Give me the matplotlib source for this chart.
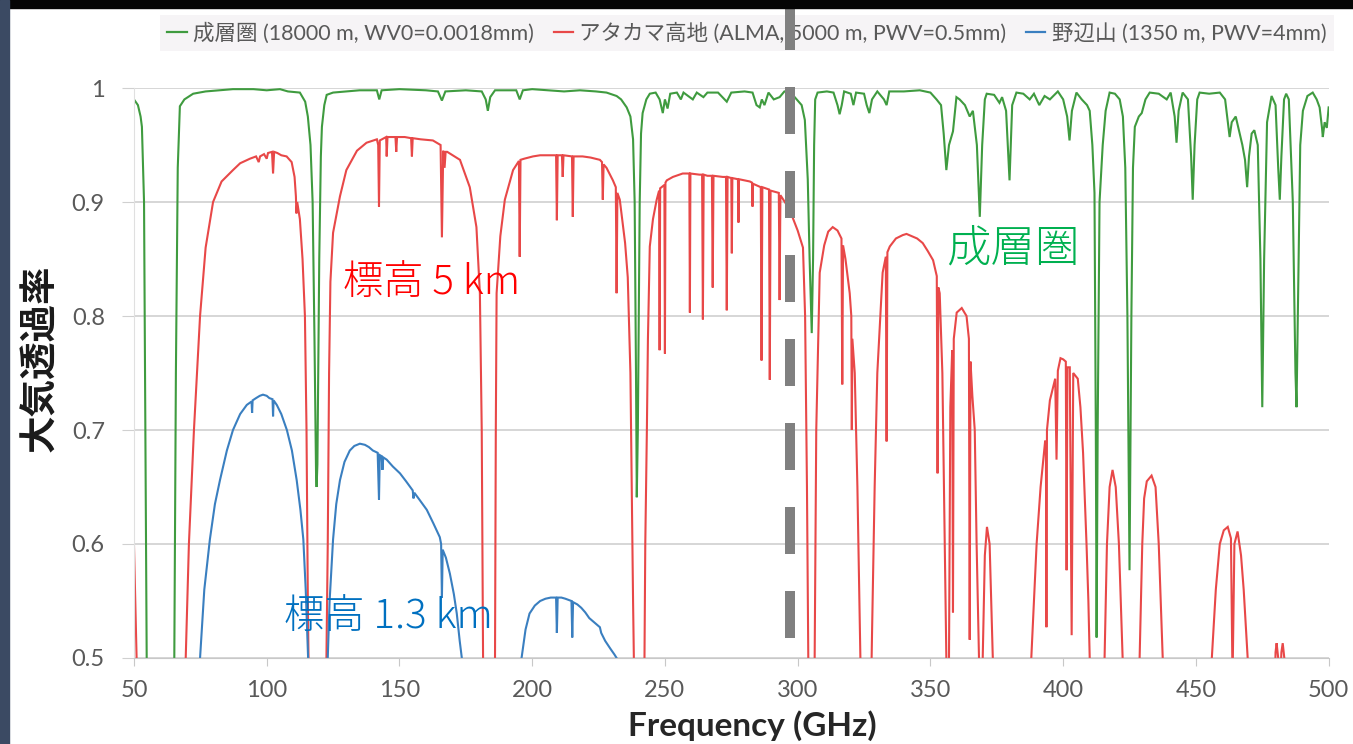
import numpy as np
import matplotlib
matplotlib.use("Agg")
import matplotlib.pyplot as plt
from matplotlib.lines import Line2D

plt.rcParams['font.family'] = ['Lato', 'Noto Sans CJK JP', 'DejaVu Sans']

# transmission, (GHz, transmission); 0.45 = below the plotted range
strato = [
    (50, 0.990), (51.5, 0.985), (52.5, 0.975), (53.0, 0.966), (53.8, 0.90), (54.3, 0.70),
    (54.8, 0.50), (55.3, 0.40), (64.8, 0.40), (65.2, 0.50), (65.8, 0.75), (66.5, 0.93),
    (67.3, 0.984), (69, 0.990), (72.3, 0.995), (77, 0.997), (82, 0.998), (87.3, 0.999),
    (95, 0.999), (100, 0.998), (105, 0.999), (108, 0.997), (112.5, 0.996), (114.5, 0.988),
    (115.5, 0.975), (116.5, 0.950), (117.3, 0.90), (118.0, 0.78), (118.6, 0.66), (118.8, 0.650),
    (119.1, 0.67), (119.8, 0.85), (120.4, 0.94), (120.8, 0.966), (121.7, 0.985), (122.6, 0.994),
    (125, 0.996), (130, 0.997), (135, 0.998), (141.5, 0.998), (142.4, 0.990), (143.3, 0.998),
    (150, 0.999), (160, 0.998), (164.5, 0.997), (166.0, 0.989), (167.3, 0.997), (175, 0.998),
    (181, 0.997), (182.5, 0.990), (183.3, 0.980), (184.2, 0.992), (186, 0.998), (194, 0.998),
    (195.3, 0.990), (196.5, 0.998), (200, 0.999), (206, 0.998), (212, 0.997), (218, 0.998),
    (224, 0.997), (228, 0.996), (231.8, 0.993), (233.5, 0.990), (235.6, 0.983), (237.0, 0.975),
    (238.0, 0.955), (238.6, 0.90), (239.1, 0.75), (239.4, 0.641), (239.8, 0.70), (240.5, 0.90),
    (241.0, 0.960), (241.6, 0.978), (243, 0.990), (244.3, 0.995), (246.5, 0.996), (248, 0.990),
    (249.2, 0.978), (250, 0.990), (251, 0.982), (252, 0.995), (254.5, 0.996), (256, 0.990),
    (257, 0.996), (260.5, 0.990), (262, 0.996), (264.5, 0.992), (266, 0.996), (270, 0.996),
    (273.3, 0.988), (275, 0.996), (280, 0.997), (283, 0.996), (284.5, 0.985), (285.7, 0.983),
    (286.5, 0.990), (287.5, 0.985), (289, 0.996), (291, 0.990), (293.2, 0.992), (295, 0.997),
    (297, 0.997), (299.6, 0.990), (301.5, 0.985), (302.7, 0.972), (303.8, 0.92), (304.5, 0.85),
    (305.3, 0.785), (305.8, 0.85), (306.2, 0.95), (306.6, 0.990), (307.5, 0.996), (311, 0.997),
    (313.5, 0.996), (315.0, 0.985), (315.8, 0.977), (316.6, 0.985), (317.5, 0.997), (320, 0.995),
    (321, 0.985), (322, 0.996), (325, 0.995), (326, 0.985), (327.0, 0.978), (328, 0.990),
    (330, 0.997), (332.5, 0.990), (333.5, 0.985), (334.5, 0.997), (340, 0.997), (346, 0.998),
    (350, 0.996), (352.3, 0.990), (354, 0.985), (355, 0.960), (356, 0.928), (357, 0.950),
    (358.5, 0.962), (359.8, 0.992), (361, 0.990), (363, 0.985), (364.8, 0.975), (366, 0.980),
    (367.5, 0.950), (368.6, 0.887), (369.5, 0.950), (370.5, 0.990), (371.2, 0.995), (374, 0.994),
    (376, 0.987), (377, 0.992), (378.5, 0.980), (379.8, 0.919), (380.8, 0.985), (382.4, 0.996),
    (385, 0.995), (387.4, 0.990), (389, 0.995), (391, 0.985), (393, 0.993), (395, 0.990),
    (398, 0.997), (400, 0.990), (401.5, 0.975), (402.4, 0.954), (403.3, 0.980), (405, 0.996),
    (407, 0.990), (409, 0.985), (410, 0.980), (411, 0.950), (411.8, 0.908), (412.3, 0.70),
    (412.6, 0.518), (413.0, 0.70), (413.7, 0.90), (414.9, 0.950), (416, 0.980), (417.5, 0.996),
    (419.5, 0.995), (421.3, 0.990), (422.5, 0.975), (423.4, 0.93), (424.2, 0.80), (425.0, 0.577),
    (425.7, 0.80), (426.3, 0.93), (427, 0.966), (428.5, 0.975), (429.6, 0.978), (431, 0.990),
    (432.6, 0.996), (436, 0.995), (439, 0.990), (440.5, 0.996), (442, 0.975), (442.7, 0.952),
    (443.5, 0.980), (445, 0.996), (447, 0.990), (448.2, 0.940), (448.8, 0.902), (449.5, 0.950),
    (450.5, 0.990), (451.4, 0.996), (455, 0.995), (459, 0.996), (461, 0.990), (462.7, 0.957),
    (463.5, 0.970), (465, 0.975), (466, 0.965), (467.5, 0.950), (468.5, 0.937), (469.3, 0.913),
    (470, 0.940), (471, 0.960), (472, 0.963), (473.3, 0.950), (474.3, 0.85), (475, 0.720),
    (475.7, 0.85), (476.8, 0.970), (478.5, 0.993), (480, 0.985), (481.0, 0.93), (481.6, 0.902),
    (482.2, 0.940), (483.2, 0.990), (484, 0.995), (485, 0.990), (486.5, 0.90), (487.5, 0.75),
    (487.9, 0.720), (488.4, 0.80), (489.3, 0.950), (490.3, 0.980), (492, 0.993), (494, 0.996),
    (495.5, 0.990), (496.6, 0.983), (497.5, 0.965), (497.8, 0.957), (498.5, 0.970),
    (499.3, 0.965), (500, 0.983),
]

alma = [
    (50, 0.60), (51.5, 0.45), (60, 0.40), (69.0, 0.45), (69.5, 0.50), (70.7, 0.60), (72.6, 0.70),
    (74.9, 0.80), (77, 0.86), (79.8, 0.90), (83, 0.918), (87.3, 0.928), (90, 0.934), (93.7, 0.938),
    (96, 0.940), (97.0, 0.935), (97.5, 0.940), (99, 0.942), (100, 0.938), (100.5, 0.943),
    (102.0, 0.944), (102.4, 0.925), (102.8, 0.944), (104, 0.943), (105.5, 0.941), (107.5, 0.940),
    (109.4, 0.935), (110.5, 0.922), (111.0, 0.905), (111.2, 0.89), (111.5, 0.900), (112.5, 0.885),
    (113.5, 0.850), (114.4, 0.800), (115.0, 0.70), (115.5, 0.55), (116, 0.45), (119, 0.40),
    (122, 0.45), (122.5, 0.50), (123.0, 0.60), (123.5, 0.75), (124.0, 0.83), (125.0, 0.873),
    (127.6, 0.905), (130, 0.928), (134, 0.945), (137.6, 0.952), (141.5, 0.955), (142.0, 0.950),
    (142.3, 0.896), (142.6, 0.954), (145.0, 0.957), (145.2, 0.940), (145.5, 0.957),
    (148.5, 0.957), (148.8, 0.944), (149.1, 0.957), (152, 0.957), (154.4, 0.956), (154.7, 0.940),
    (155.0, 0.956), (158, 0.955), (162.6, 0.954), (165.5, 0.950), (166.0, 0.869), (166.5, 0.945),
    (167.0, 0.930), (167.4, 0.944), (168, 0.944), (172.8, 0.937), (176.5, 0.913), (179, 0.878),
    (180.3, 0.82), (181.0, 0.70), (181.5, 0.50), (182, 0.45), (184, 0.40), (185.5, 0.45),
    (186, 0.50), (186.3, 0.70), (186.6, 0.82), (188, 0.87), (189.7, 0.902), (192.8, 0.928),
    (195.0, 0.936), (195.3, 0.852), (195.6, 0.937), (197, 0.938), (200.3, 0.940), (203, 0.941),
    (209.0, 0.941), (209.3, 0.884), (209.6, 0.941), (211.2, 0.941), (211.5, 0.922),
    (211.8, 0.941), (215.0, 0.940), (215.3, 0.887), (215.6, 0.940), (219, 0.940), (222, 0.939),
    (225.5, 0.937), (226.3, 0.935), (226.6, 0.902), (226.9, 0.933), (228, 0.930), (230.4, 0.919),
    (231.5, 0.913), (231.8, 0.82), (232.1, 0.908), (233, 0.902), (235, 0.864), (236, 0.834),
    (237, 0.75), (237.5, 0.65), (238.0, 0.55), (238.6, 0.45), (240, 0.40), (241.8, 0.45),
    (242.3, 0.50), (242.6, 0.60), (243.2, 0.70), (243.6, 0.78), (244.3, 0.861), (245.5, 0.885),
    (246.9, 0.902), (247.8, 0.910), (248.0, 0.77), (248.2, 0.912), (249.8, 0.915), (250.0, 0.767),
    (250.2, 0.917), (250.7, 0.919), (253, 0.922), (256.7, 0.925), (259.2, 0.925), (259.4, 0.803),
    (259.6, 0.925), (263, 0.924), (264.0, 0.924), (264.3, 0.797), (264.6, 0.924), (266, 0.923),
    (267.7, 0.923), (268.0, 0.825), (268.3, 0.923), (271.8, 0.922), (273.0, 0.922),
    (273.3, 0.805), (273.6, 0.922), (275.0, 0.921), (275.2, 0.855), (275.4, 0.921),
    (277.5, 0.920), (277.7, 0.882), (277.9, 0.920), (282, 0.918), (282.8, 0.917), (283.0, 0.896),
    (283.2, 0.916), (286.1, 0.913), (286.4, 0.761), (286.7, 0.913), (289.2, 0.911),
    (289.5, 0.744), (289.8, 0.910), (292.9, 0.908), (293.2, 0.814), (293.5, 0.906), (296, 0.897),
    (298, 0.887), (300, 0.875), (302, 0.860), (302.8, 0.80), (303.5, 0.65), (304, 0.50),
    (304.5, 0.45), (305.8, 0.45), (306.4, 0.50), (307, 0.70), (308.3, 0.838), (310, 0.862),
    (311.5, 0.874), (313.2, 0.878), (315, 0.875), (316.5, 0.868), (316.8, 0.740), (317.1, 0.862),
    (318, 0.850), (319.6, 0.820), (320.2, 0.80), (320.4, 0.70), (320.6, 0.78), (321.5, 0.75),
    (322.5, 0.65), (323.5, 0.52), (324, 0.45), (327.5, 0.45), (328, 0.52), (329, 0.65),
    (330, 0.75), (332, 0.838), (333.2, 0.852), (333.5, 0.69), (333.8, 0.856), (334.7, 0.861),
    (337, 0.868), (339.6, 0.871), (341, 0.872), (343, 0.870), (345, 0.868), (347.1, 0.864),
    (349, 0.857), (351, 0.849), (352.4, 0.835), (352.7, 0.662), (353.0, 0.825), (353.5, 0.82),
    (354.5, 0.75), (355.3, 0.62), (356, 0.50), (356.5, 0.45), (357.0, 0.50), (357.5, 0.72),
    (358.2, 0.77), (358.5, 0.54), (358.8, 0.78), (359.9, 0.803), (361.8, 0.807), (363.6, 0.800),
    (364.5, 0.78), (364.8, 0.516), (365.1, 0.76), (365.8, 0.73), (366.7, 0.70), (367.4, 0.60),
    (368.3, 0.50), (368.8, 0.45), (369.3, 0.45), (369.7, 0.50), (370.5, 0.59), (371.3, 0.615),
    (372.3, 0.60), (373.5, 0.50), (374.5, 0.45), (387, 0.45), (388, 0.50), (390, 0.60),
    (391.5, 0.65), (393.2, 0.69), (393.5, 0.69), (393.7, 0.527), (393.9, 0.70), (395, 0.726),
    (397, 0.745), (397.5, 0.674), (398, 0.752), (399, 0.763), (400, 0.762), (401.0, 0.760),
    (401.3, 0.577), (401.6, 0.755), (402.5, 0.755), (403.2, 0.52), (403.8, 0.750),
    (405.5, 0.745), (406.5, 0.72), (407.5, 0.68), (408.8, 0.60), (409.5, 0.55), (410, 0.50),
    (410.5, 0.45), (415, 0.45), (415.6, 0.50), (416.5, 0.60), (417.5, 0.65), (418.6, 0.665),
    (419.8, 0.65), (421, 0.60), (422.4, 0.50), (423, 0.45), (428.3, 0.45), (428.8, 0.50),
    (429.8, 0.60), (430.5, 0.64), (431.5, 0.655), (433.3, 0.660), (434.8, 0.65), (436, 0.60),
    (437.5, 0.50), (438, 0.45), (455.5, 0.45), (456, 0.50), (457.5, 0.56), (459, 0.60),
    (460.5, 0.612), (462, 0.615), (463.2, 0.605), (463.8, 0.48), (464.5, 0.60), (465.7, 0.611),
    (467, 0.59), (468, 0.56), (469.5, 0.50), (470, 0.45), (479.5, 0.45), (480, 0.505),
    (480.4, 0.513), (481, 0.50), (481.5, 0.46), (482.2, 0.505), (482.7, 0.513), (483.3, 0.50),
    (484, 0.45), (500, 0.45),
]

nobeyama = [
    (74.5, 0.45), (74.9, 0.50), (76.5, 0.56), (78.6, 0.604), (80.5, 0.635), (82.4, 0.656),
    (85, 0.682), (87.3, 0.700), (90, 0.714), (92.5, 0.722), (94.3, 0.725), (94.5, 0.715),
    (94.7, 0.726), (96, 0.728), (97.4, 0.730), (98.6, 0.731), (100, 0.730), (101, 0.728),
    (102.2, 0.727), (102.4, 0.712), (102.6, 0.726), (103.8, 0.722), (105.5, 0.714),
    (107.6, 0.700), (109.5, 0.682), (111.3, 0.656), (112.7, 0.630), (113.8, 0.604),
    (114.7, 0.56), (115.3, 0.52), (115.6, 0.50), (116, 0.45), (122.5, 0.45), (123, 0.50),
    (123.7, 0.55), (125, 0.604), (126.2, 0.635), (127.6, 0.656), (129.3, 0.672), (131.3, 0.682),
    (133, 0.686), (135.1, 0.688), (137, 0.687), (138.5, 0.685), (140, 0.682), (141.8, 0.680),
    (142.3, 0.639), (142.6, 0.678), (143.3, 0.677), (143.6, 0.665), (143.9, 0.676),
    (145.2, 0.674), (147.5, 0.668), (150.2, 0.662), (152.5, 0.655), (155, 0.647), (155.3, 0.640),
    (155.6, 0.645), (157.5, 0.639), (160.3, 0.630), (162.8, 0.618), (165.2, 0.606),
    (165.7, 0.600), (166.0, 0.553), (166.3, 0.595), (167.5, 0.588), (169, 0.574), (170.5, 0.556),
    (171.6, 0.539), (172.7, 0.515), (173.5, 0.50), (174, 0.45), (195.5, 0.45), (196, 0.50),
    (197.5, 0.525), (199, 0.539), (201, 0.546), (203, 0.550), (205, 0.552), (207, 0.553),
    (209, 0.553), (209.3, 0.522), (209.6, 0.553), (211, 0.553), (212.5, 0.552), (214.8, 0.550),
    (215.1, 0.518), (215.4, 0.549), (217, 0.547), (218.5, 0.544), (220, 0.540), (221.5, 0.535),
    (224, 0.530), (225.5, 0.527), (226.0, 0.522), (227.5, 0.515), (229.5, 0.508),
    (231.0, 0.503), (231.8, 0.50), (232.3, 0.45),
]

labels = ['成層圏 (18000 m, WV0=0.0018mm)',
          'アタカマ高地 (ALMA, 5000 m, PWV=0.5mm)',
          '野辺山 (1350 m, PWV=4mm)']
colors = ['#3f9b3f', '#e84848', '#3a7fc0']
y_ticks = [0.5, 0.6, 0.7, 0.8, 0.9, 1.0]
y_ticklabels = ['0.5', '0.6', '0.7', '0.8', '0.9', '1']
x_ticks = [50, 100, 150, 200, 250, 300, 350, 400, 450, 500]
cut_freq = 297

fig = plt.figure(figsize=(13.53, 7.44), dpi=100)
ax = fig.add_axes([0.099, 0.1156, 0.883, 0.7661])

for series, col in zip([alma, nobeyama, strato], [colors[1], colors[2], colors[0]]):
    f, t = zip(*series)
    ax.plot(f, t, color=col, lw=1.5, solid_joinstyle='miter')

ax.set_xlim(50, 500)
ax.set_ylim(0.5, 1.0)
ax.set_xticks(x_ticks)
ax.set_yticks(y_ticks)
ax.set_yticklabels(y_ticklabels)
ax.yaxis.grid(True, color='#d0d0d0', lw=1.2)
ax.set_axisbelow(True)
for s in ['top', 'right']:
    ax.spines[s].set_visible(False)
ax.spines['bottom'].set_color('#c8c8c8')
ax.spines['left'].set_color('#e0e0e0')
ax.tick_params(axis='x', length=6, color='#c8c8c8', labelsize=17, labelcolor='#595959', pad=10)
ax.tick_params(axis='y', length=9, color='#d0d0d0', labelsize=17, labelcolor='#595959', pad=12)

fig.text(0.556, 0.025, 'Frequency (GHz)', ha='center', va='center', fontsize=24,
         fontweight='bold', color='#262626')
fig.text(0.029, 0.518, '大気透過率', ha='center', va='center', rotation=90, fontsize=27,
         fontweight='bold', color='#1a1a1a', family=['Noto Sans CJK JP'])

ax.text(162, 0.829, '標高 5 km', color='#ff0000', fontsize=29, ha='center', va='center',
        family=['Noto Sans CJK JP'], fontweight='light')
ax.text(381, 0.859, '成層圏', color='#00b050', fontsize=32, ha='center', va='center',
        family=['Noto Sans CJK JP'], fontweight='light')
ax.text(146, 0.536, '標高 1.3 km', color='#0070c0', fontsize=29, ha='center', va='center',
        family=['Noto Sans CJK JP'], fontweight='light')

handles = [Line2D([], [], color=c, lw=1.6) for c in colors]
leg = fig.legend(handles, labels, loc='center', bbox_to_anchor=(0.552, 0.956), ncol=3,
                 fontsize=15.5, handlelength=0.9, handletextpad=0.3, columnspacing=0.9,
                 borderpad=0.35, frameon=True, facecolor='#f6f4f6', edgecolor='none',
                 fancybox=False, labelcolor='#595959')
leg.get_frame().set_alpha(1)

# grey dashed divider, running up over the legend
cut = Line2D([cut_freq, cut_freq], [1.075, 0.5175], transform=ax.transData, color='#808080',
             lw=7.2, zorder=10)
cut.set_dashes((4.7, 3.7))
cut.set_dash_capstyle('butt')
fig.add_artist(cut)

# dark picture edges of the screenshot
fig.add_artist(plt.Rectangle((0, 0.989), 1, 0.011, transform=fig.transFigure,
                             color='#050505', zorder=20))
fig.add_artist(plt.Rectangle((0, 0), 0.0065, 1, transform=fig.transFigure,
                             color='#3b4a63', zorder=20))

fig.savefig('out.png', dpi=100)
